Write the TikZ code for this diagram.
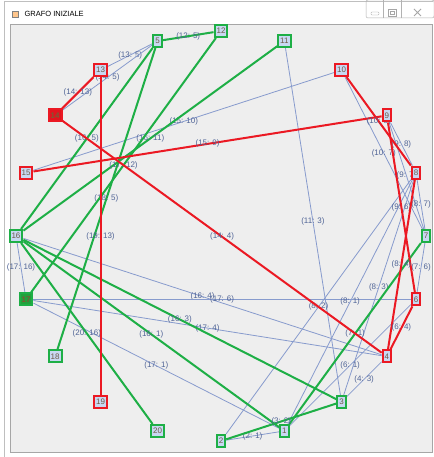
\documentclass[tikz,border=0pt]{standalone}
\usepackage{fontspec}
\setmainfont{Liberation Sans}
\usetikzlibrary{calc, positioning}
\pgfdeclarelayer{bg}
\pgfdeclarelayer{edges}
\pgfsetlayers{bg,edges,main}

\definecolor{panelgray}{RGB}{238,238,238}
\definecolor{edgeblue}{RGB}{135,155,205}
\definecolor{labelblue}{RGB}{80,100,150}
\definecolor{treegreen}{RGB}{30,175,70}
\definecolor{treered}{RGB}{235,25,35}
\definecolor{darkgreen}{RGB}{35,160,60}
\definecolor{darkred}{RGB}{225,20,30}
\definecolor{boxfill}{RGB}{200,216,242}
\definecolor{boxtext}{RGB}{110,90,70}

\tikzset{
  vertex/.style={draw, rectangle, line width=2pt, fill=boxfill, text=boxtext,
    inner xsep=2pt, inner ysep=1.5pt, minimum height=12pt,
    font=\fontsize{8}{9}\selectfont},
  plainedge/.style={draw=edgeblue, line width=0.8pt},
  greenedge/.style={draw=treegreen, line width=2pt},
  rededge/.style={draw=treered, line width=2pt},
  elabel/.style={text=labelblue, inner sep=0pt, font=\fontsize{8}{9}\selectfont},
  winbutton/.style={draw=gray!60, rounded corners=2pt, line width=0.5pt}
}

\begin{document}
\begin{tikzpicture}[x=1pt, y=1pt]
\useasboundingbox (0,0) rectangle (433,457);

\begin{pgfonlayer}{bg}
% window frame and title bar
\fill[white] (0,0) rectangle (433,457);
\draw[gray!50] (4.5,0) -- (4.5,456) -- (433,456);
\node[draw=gray, fill=orange!45, minimum size=6pt, inner sep=0pt] (icon) at (15,443) {};
\node[font=\fontsize{7.5}{8}\selectfont, anchor=west] (title) at (21,443) {GRAFO INIZIALE};
\draw[winbutton] (366,439) rectangle (434,457);
\draw[gray!60] (383,439) -- (383,457);
\draw[gray!60] (401,439) -- (401,457);
\draw[gray!70, rounded corners=0.8pt] (371,442) rectangle (379,445);
\draw[gray!70] (388,441) rectangle (396,448);
\draw[gray!70] (390,443) rectangle (394,446);
\draw[gray!70, line width=0.8pt] (414,441) -- (421,448) (414,448) -- (421,441);
% drawing panel
\fill[panelgray] (10,4) rectangle (432,432);
\draw[gray!70, line width=1pt] (10,4) rectangle (432,432);
\end{pgfonlayer}

% vertices on a circle
\begin{scope}[shift={(221,221)}]
\foreach \v/\a/\col/\fil in {7/0/treegreen/boxfill, 8/18/treered/boxfill,
    9/36/treered/boxfill, 10/54/treered/boxfill, 11/72/treegreen/boxfill,
    12/90/treegreen/boxfill, 5/108/treegreen/boxfill, 13/126/treered/boxfill,
    14/144/treered/darkred, 15/162/treered/boxfill, 16/180/treegreen/boxfill,
    17/198/treegreen/darkgreen, 18/216/treegreen/boxfill, 19/234/treered/boxfill,
    20/252/treegreen/boxfill, 2/270/treegreen/boxfill, 1/288/treegreen/boxfill,
    3/306/treegreen/boxfill, 4/324/treered/boxfill, 6/342/treered/boxfill}
  \node[vertex, draw=\col, fill=\fil] (n\v) at (\a:205) {\v};
\end{scope}
% text of the two filled vertices
\node[font=\fontsize{8}{9}\selectfont, text=brown!70!black] at (n14) {14};
\node[font=\fontsize{8}{9}\selectfont, text=brown!70!black] at (n17) {17};

\begin{pgfonlayer}{edges}
\foreach \a/\b in {13/5, 14/5, 15/10, 17/16, 16/4, 17/6, 17/4, 17/1, 11/3,
    10/7, 9/8, 9/7, 8/7, 7/6, 8/3, 8/1, 8/2, 6/1, 4/3, 2/1}
  \draw[plainedge] (n\a) -- node[elabel] {(\a : \b)} (n\b);
\foreach \a/\b in {12/5, 16/5, 18/5, 16/11, 17/12, 20/16, 16/1, 16/3, 7/1, 3/2}
  \draw[greenedge] (n\a) -- node[elabel] {(\a : \b)} (n\b);
\foreach \a/\b in {14/13, 19/13, 14/4, 15/9, 10/8, 9/6, 8/4, 6/4}
  \draw[rededge] (n\a) -- node[elabel] {(\a : \b)} (n\b);
\end{pgfonlayer}

\end{tikzpicture}
\end{document}
